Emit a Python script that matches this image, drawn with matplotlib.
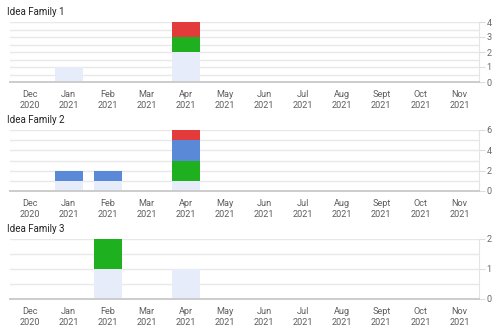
import matplotlib.pyplot as plt
from matplotlib.ticker import MultipleLocator

plt.rcParams['font.family'] = ['Roboto', 'DejaVu Sans']

# Month categories along the x axis
months = ['Dec\n2020', 'Jan\n2021', 'Feb\n2021', 'Mar\n2021', 'Apr\n2021', 'May\n2021',
          'Jun\n2021', 'Jul\n2021', 'Aug\n2021', 'Sept\n2021', 'Oct\n2021', 'Nov\n2021']

# Idea Family 1
fam1_base = [0, 1, 0, 0, 2, 0, 0, 0, 0, 0, 0, 0]
fam1_green = [0, 0, 0, 0, 1, 0, 0, 0, 0, 0, 0, 0]
fam1_blue = [0, 0, 0, 0, 0, 0, 0, 0, 0, 0, 0, 0]
fam1_red = [0, 0, 0, 0, 1, 0, 0, 0, 0, 0, 0, 0]

# Idea Family 2
fam2_base = [0, 1, 1, 0, 1, 0, 0, 0, 0, 0, 0, 0]
fam2_green = [0, 0, 0, 0, 2, 0, 0, 0, 0, 0, 0, 0]
fam2_blue = [0, 1, 1, 0, 2, 0, 0, 0, 0, 0, 0, 0]
fam2_red = [0, 0, 0, 0, 1, 0, 0, 0, 0, 0, 0, 0]

# Idea Family 3
fam3_base = [0, 0, 1, 0, 1, 0, 0, 0, 0, 0, 0, 0]
fam3_green = [0, 0, 1, 0, 0, 0, 0, 0, 0, 0, 0, 0]
fam3_blue = [0, 0, 0, 0, 0, 0, 0, 0, 0, 0, 0, 0]
fam3_red = [0, 0, 0, 0, 0, 0, 0, 0, 0, 0, 0, 0]

families = [
    ('Idea Family 1', [fam1_base, fam1_green, fam1_blue, fam1_red], 4, 1, 0.5),
    ('Idea Family 2', [fam2_base, fam2_green, fam2_blue, fam2_red], 6, 2, 1),
    ('Idea Family 3', [fam3_base, fam3_green, fam3_blue, fam3_red], 2, 1, 0.5),
]
colors = ['#e6ecfa', '#1fb01f', '#5a89d8', '#e33b3b']

W, H = 498, 328
fig = plt.figure(figsize=(W / 100, H / 100), dpi=100)

# pixel rows (top, bottom) of each plot area
rows = [(22, 82), (130, 191), (239, 299)]
left, right = 10, 479

x = list(range(len(months)))
for (title, series, ymax, major, minor), (top, bottom) in zip(families, rows):
    ax = fig.add_axes([left / W, 1 - bottom / H, (right - left) / W, (bottom - top) / H])
    bottoms = [0] * len(months)
    for vals, c in zip(series, colors):
        ax.bar(x, vals, width=0.72, bottom=bottoms, color=c, zorder=3)
        bottoms = [b + v for b, v in zip(bottoms, vals)]

    ax.set_xlim(-0.5, len(months) - 0.5)
    ax.set_ylim(0, ymax)
    ax.set_xticks(x)
    ax.set_xticklabels(months, fontsize=6.6, color='#5e5e5e', linespacing=1.3)
    ax.tick_params(axis='x', length=0, pad=5.5)

    ax.yaxis.tick_right()
    ax.yaxis.set_major_locator(MultipleLocator(major))
    ax.yaxis.set_minor_locator(MultipleLocator(minor))
    ax.tick_params(axis='y', which='major', length=4, width=0.8, color='#dddddd',
                   labelsize=6.6, labelcolor='#6a6a6a', pad=1.5)
    ax.tick_params(axis='y', which='minor', length=0)
    ax.grid(axis='y', which='both', color='#e8e8e8', linewidth=1, zorder=0)

    for s in ['top', 'left']:
        ax.spines[s].set_visible(False)
    ax.spines['right'].set_color('#e4e4e4')
    ax.spines['right'].set_linewidth(0.8)
    ax.spines['bottom'].set_color('#cccccc')
    ax.spines['bottom'].set_linewidth(1.4)
    ax.spines['bottom'].set_zorder(4)

    fig.text(7 / W, 1 - (top - 10) / H, title, fontsize=7.0, color='#222222',
             ha='left', va='center')

fig.savefig('out.png', dpi=100)
